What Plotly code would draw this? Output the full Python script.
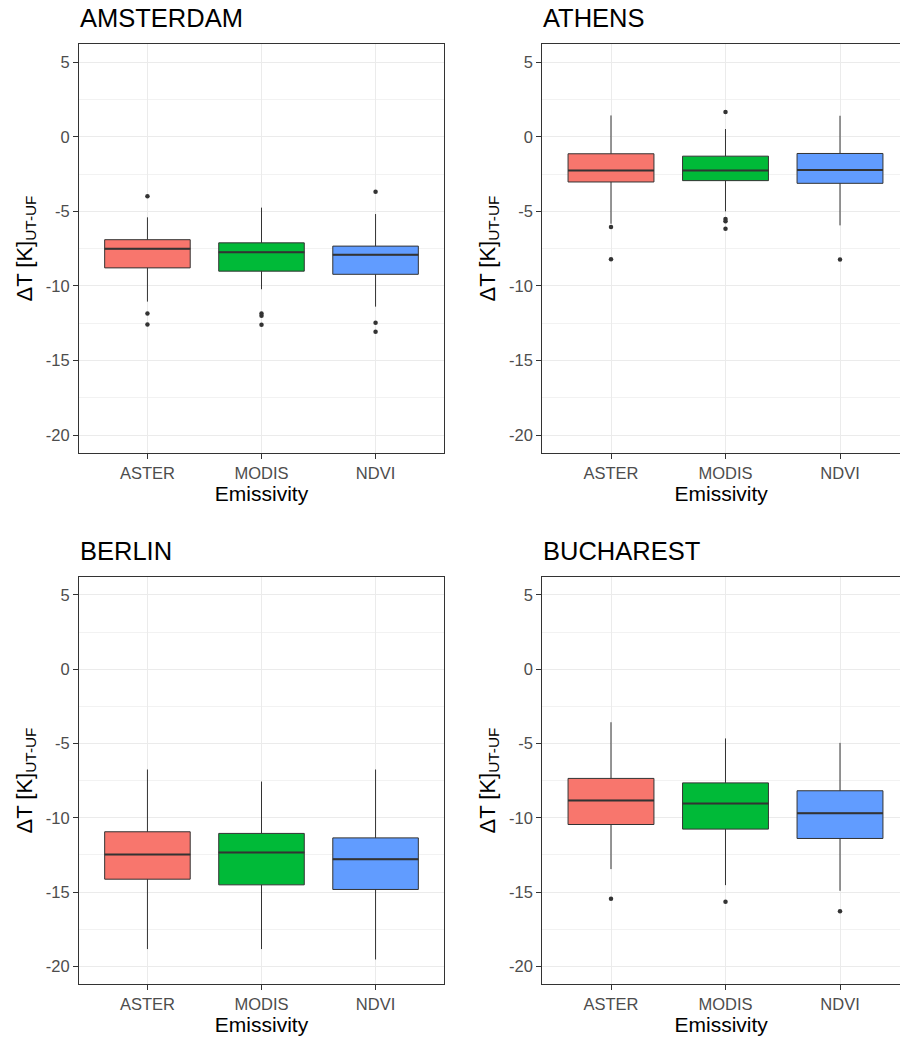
import plotly.graph_objects as go

# ---------------- data ----------------
cities = ["AMSTERDAM", "ATHENS", "BERLIN", "BUCHAREST"]
methods = ["ASTER", "MODIS", "NDVI"]
colors = ["#F8766D", "#00BA38", "#619CFF"]

q1 = {
    "AMSTERDAM": [-8.79, -9.01, -9.22],
    "ATHENS": [-3.03, -2.94, -3.12],
    "BERLIN": [-14.13, -14.51, -14.82],
    "BUCHAREST": [-10.45, -10.76, -11.39],
}
median = {
    "AMSTERDAM": [-7.51, -7.74, -7.91],
    "ATHENS": [-2.26, -2.26, -2.22],
    "BERLIN": [-12.47, -12.33, -12.78],
    "BUCHAREST": [-8.83, -9.04, -9.69],
}
q3 = {
    "AMSTERDAM": [-6.90, -7.11, -7.33],
    "ATHENS": [-1.14, -1.30, -1.12],
    "BERLIN": [-10.94, -11.05, -11.35],
    "BUCHAREST": [-7.35, -7.65, -8.18],
}
lower_whisker = {
    "AMSTERDAM": [-11.05, -10.22, -11.39],
    "ATHENS": [-5.83, -5.00, -5.94],
    "BERLIN": [-18.83, -18.83, -19.53],
    "BUCHAREST": [-13.45, -14.53, -14.91],
}
upper_whisker = {
    "AMSTERDAM": [-5.40, -4.75, -5.18],
    "ATHENS": [1.43, 0.52, 1.41],
    "BERLIN": [-6.75, -7.56, -6.75],
    "BUCHAREST": [-3.57, -4.66, -4.96],
}
outliers = {
    "AMSTERDAM": [[-3.99, -11.84, -12.58], [-11.85, -12.0, -12.60], [-3.68, -12.47, -13.07]],
    "ATHENS": [[-6.05, -8.21], [1.66, -5.52, -5.67, -6.17], [-8.23]],
    "BERLIN": [[], [], []],
    "BUCHAREST": [[-15.45], [-15.65], [-16.28]],
}

y_tickvals = [5, 0, -5, -10, -15, -20]
y_ticktext = ["5", "0", "-5", "-10", "-15", "-20"]
y_title = "ΔT [K]<sub>UT-UF</sub>"
x_title = "Emissivity"

# ---------------- layout geometry ----------------
W, H = 900, 1043
panels = {
    "AMSTERDAM": dict(x=(79, 444), y=(44, 453), xr=(-0.6, 2.6), right=False),
    "ATHENS": dict(x=(542.3, 900), y=(44, 453), xr=(-0.6, 2.524), right=True),
    "BERLIN": dict(x=(79, 444), y=(576.7, 984.3), xr=(-0.6, 2.6), right=False),
    "BUCHAREST": dict(x=(542.3, 900), y=(576.7, 984.3), xr=(-0.6, 2.524), right=True),
}
y_range = [-21.2, 6.22]
box_w = 0.75
FONT = "Liberation Sans, Arial, Helvetica, sans-serif"
GRID = "#EBEBEB"
LINE = "#333333"

fig = go.Figure()
layout = dict(
    width=W, height=H, margin=dict(l=0, r=0, t=0, b=0),
    paper_bgcolor="white", plot_bgcolor="white", showlegend=False,
    font=dict(family=FONT), annotations=[], shapes=[],
)

for k, city in enumerate(cities):
    p = panels[city]
    ax = "" if k == 0 else str(k + 1)
    xa, ya = "x" + ax, "y" + ax
    for i, m in enumerate(methods):
        fig.add_trace(go.Box(
            x=[i], q1=[q1[city][i]], median=[median[city][i]], q3=[q3[city][i]],
            lowerfence=[lower_whisker[city][i]], upperfence=[upper_whisker[city][i]],
            width=box_w, fillcolor=colors[i], line=dict(color=LINE, width=1),
            whiskerwidth=0, boxpoints=False, hoverinfo="skip",
            xaxis=xa, yaxis=ya, name=m,
        ))
        # thicker median (ggplot fatten)
        fig.add_trace(go.Scatter(
            x=[i - box_w / 2, i + box_w / 2], y=[median[city][i]] * 2,
            mode="lines", line=dict(color=LINE, width=2), hoverinfo="skip",
            xaxis=xa, yaxis=ya,
        ))
        if outliers[city][i]:
            fig.add_trace(go.Scatter(
                x=[i] * len(outliers[city][i]), y=outliers[city][i], mode="markers",
                marker=dict(color=LINE, size=4.5), hoverinfo="skip",
                xaxis=xa, yaxis=ya,
            ))
    x0, x1 = p["x"]
    y0, y1 = p["y"]
    layout["xaxis" + ax] = dict(
        domain=[x0 / W, x1 / W], range=list(p["xr"]), anchor=ya,
        tickmode="array", tickvals=list(range(len(methods))), ticktext=methods,
        showgrid=True, gridcolor=GRID, gridwidth=1.1, zeroline=False,
        showline=True, linecolor=LINE, linewidth=1.2, mirror=True,
        ticks="outside", ticklen=5, tickcolor=LINE, tickwidth=1.2,
        tickfont=dict(size=16.5, color="#4D4D4D"),
        title=dict(text=x_title, font=dict(size=21, color="black"), standoff=5),
    )
    layout["yaxis" + ax] = dict(
        domain=[1 - y1 / H, 1 - y0 / H], range=y_range, anchor=xa,
        tickmode="array", tickvals=y_tickvals, ticktext=y_ticktext,
        showgrid=True, gridcolor=GRID, gridwidth=1.1, zeroline=False,
        minor=dict(tickmode="linear", tick0=2.5, dtick=5, showgrid=True,
                   gridcolor="#F2F2F2", gridwidth=0.8, ticks=""),
        showline=True, linecolor=LINE, linewidth=1.2, mirror=not p["right"],
        ticks="outside", ticklen=5, tickcolor=LINE, tickwidth=1.2,
        tickfont=dict(size=16.5, color="#4D4D4D"),
        title=dict(text=y_title, font=dict(size=22, color="black"), standoff=7),
    )
    layout["annotations"].append(dict(
        text=city, xref="paper", yref="paper",
        x=(x0 - 1) / W, y=1 - (y0 - 26) / H,
        xanchor="left", yanchor="middle", showarrow=False,
        font=dict(size=25.5, color="black"),
    ))

fig.update_layout(**layout)
fig.write_html(
    "out.html",
    config={"displayModeBar": False},
    post_script="document.body.style.margin='0px';document.body.style.overflow='hidden';",
)
